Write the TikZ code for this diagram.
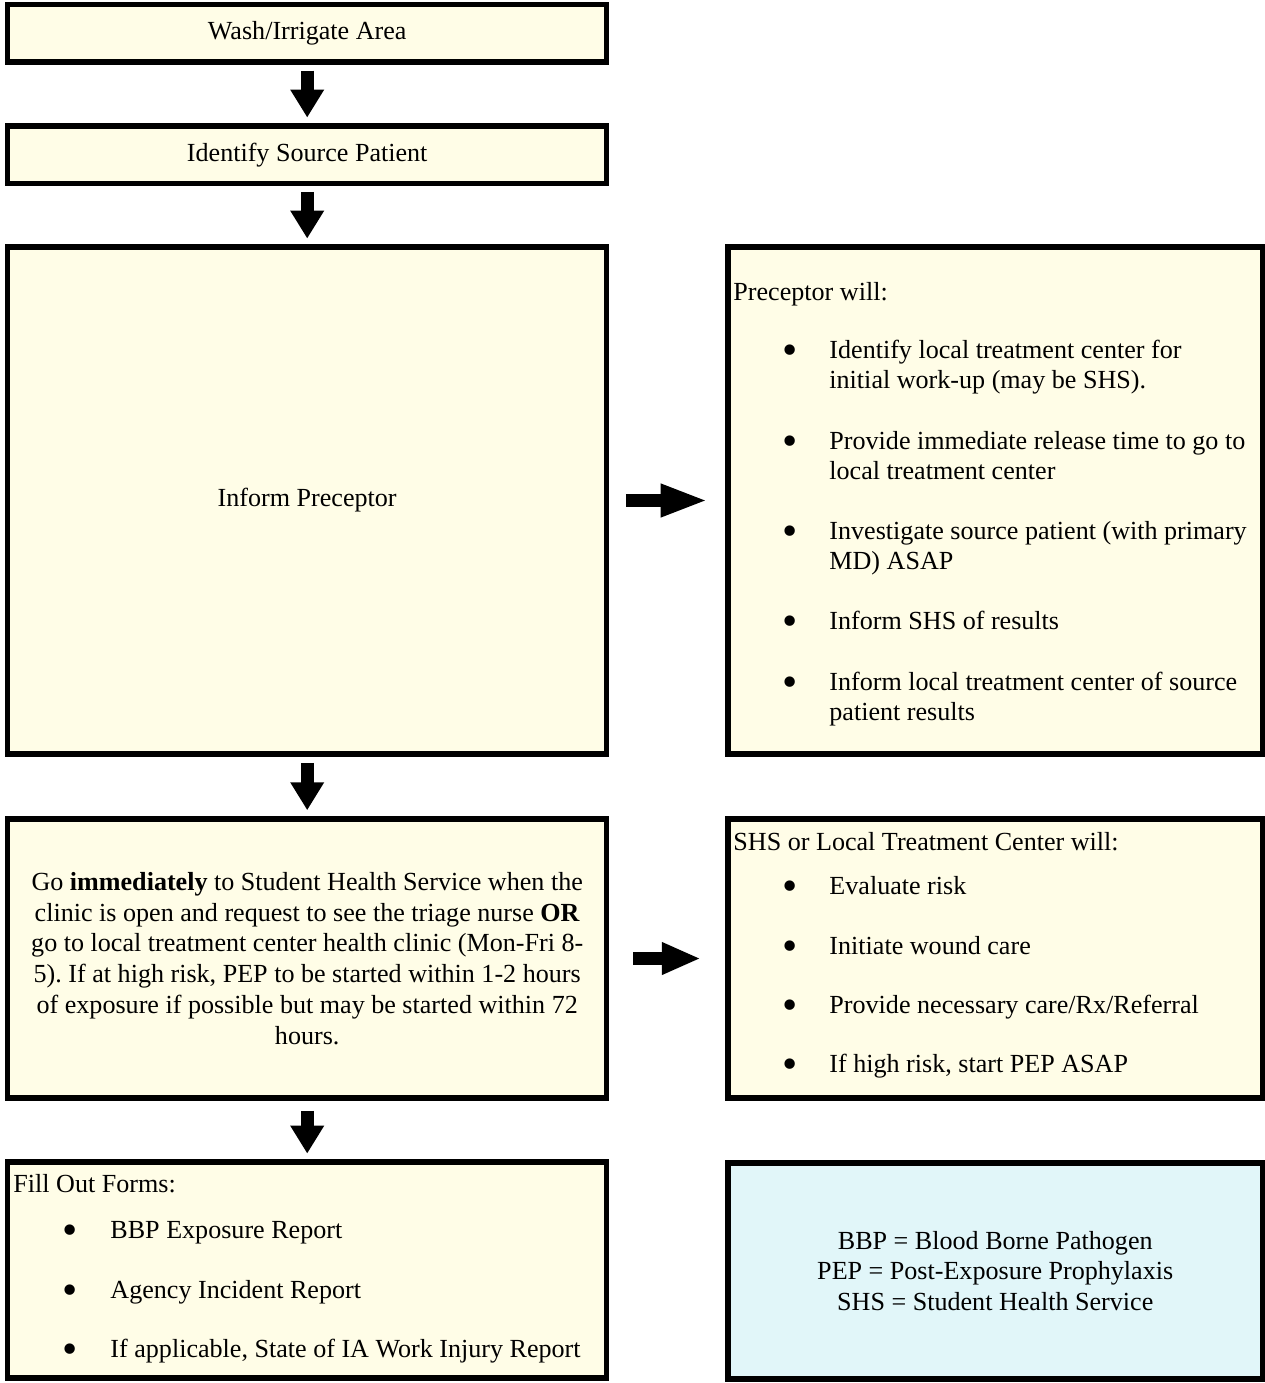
\documentclass[tikz,border=0pt]{standalone}
\usepackage{fontspec}
\setmainfont{Liberation Serif}
\usepackage{xcolor}
\usetikzlibrary{arrows.meta}
\definecolor{boxyellow}{HTML}{FFFDE7}
\definecolor{boxcyan}{HTML}{E1F6F9}
\newcommand{\px}{0.46pt}
\frenchspacing
\tikzset{
  every node/.style = {font = \fontsize{12}{14.2}\selectfont, inner sep=0pt}
}
\tikzset{
  flow box/.style = {draw, line width=2.53pt, fill=boxyellow, minimum width=599*\px},
  side box/.style = {flow box, minimum width=534.5*\px},
  list dot/.style = {anchor=base, font=\fontsize{20}{20}\selectfont},
  down arrow/.style = {line width=5.98pt, -{Triangle[length=12.88pt, width=14.72pt]},
    shorten <=2.6pt, shorten >=2.6pt},
  side arrow/.style = {line width=5.98pt, -{Triangle[length=#1, width=13.8pt]}}
}

\begin{document}
\begin{tikzpicture}[x=\px, y=-\px]
  \useasboundingbox (0,0) rectangle (1265,1383);

  % left column
  \node[flow box, minimum height=57.5*\px] (wash) at (307.2,33.5) {Wash/Irrigate Area};
  \node[flow box, minimum height=57.5*\px] (ident) at (307.2,154.7) {Identify Source Patient};
  \node[flow box, minimum height=507*\px] (inform) at (307.2,500.5) {Inform Preceptor};
  \node[flow box, minimum height=279*\px, align=center] (gohealth) at (307.2,958.5)
    {Go \textbf{immediately} to Student Health Service when the\\
     clinic is open and request to see the triage nurse \textbf{OR}\\
     go to local treatment center health clinic (Mon-Fri 8-\\
     5). If at high risk, PEP to be started within 1-2 hours\\
     of exposure if possible but may be started within 72\\
     hours.};
  \node[flow box, minimum height=216*\px] (forms) at (307.2,1270) {};

  % right column
  \node[side box, minimum height=507*\px] (precwill) at (995.25,500.5) {};
  \node[side box, minimum height=279*\px] (shswill) at (995.25,958.5) {};
  \node[side box, minimum height=216*\px, fill=boxcyan, align=center] (legend) at (995.25,1271)
    {BBP = Blood Borne Pathogen\\
     PEP = Post-Exposure Prophylaxis\\
     SHS = Student Health Service};

  \draw[down arrow] (wash) -- (ident);
  \draw[down arrow] (ident) -- (inform);
  \draw[down arrow, shorten <=2.76pt, shorten >=2.76pt] (inform) -- (gohealth);
  \draw[down arrow, shorten <=4.6pt] (gohealth) -- (forms);
  \draw[side arrow=21.9pt, shorten <=7.59pt, shorten >=7.82pt] (inform) -- (precwill);
  \draw[side arrow=17.94pt, shorten <=11pt, shorten >=11.27pt] (gohealth) -- (shswill);

  % lists
  \node[anchor=base west] (precwho) at (733,301) {Preceptor will:};
  \foreach \y in {358,449,539,629,690}
    \node[list dot] (pb\y) at (790,\y+6) {\textbullet};
  \foreach \y/\t in {358/Identify local treatment center for,
                     388/{initial work-up (may be SHS).},
                     449/Provide immediate release time to go to,
                     479/local treatment center,
                     539/{Investigate source patient (with primary},
                     569/{MD) ASAP},
                     629/Inform SHS of results,
                     690/Inform local treatment center of source,
                     720/patient results}
    \node[anchor=base west] (pl\y) at (829,\y) {\t};

  \node[anchor=base west] (shswho) at (733,850) {SHS or Local Treatment Center will:};
  \foreach \y/\t in {894/Evaluate risk, 954/Initiate wound care,
                     1013/{Provide necessary care/Rx/Referral},
                     1072/{If high risk, start PEP ASAP}}{
    \node[list dot] (sb\y) at (790,\y+6) {\textbullet};
    \node[anchor=base west] (sl\y) at (829,\y) {\t};
  }

  \node[anchor=base west] (formswho) at (13,1192) {Fill Out Forms:};
  \foreach \y/\t in {1238/BBP Exposure Report, 1298/Agency Incident Report,
                     1357/{If applicable, State of IA Work Injury Report}}{
    \node[list dot] (fb\y) at (70,\y+6) {\textbullet};
    \node[anchor=base west] (fl\y) at (110,\y) {\t};
  }
\end{tikzpicture}
\end{document}
